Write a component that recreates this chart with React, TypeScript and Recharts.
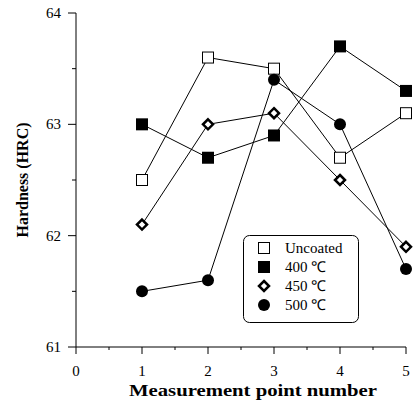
import React from 'react';
import { LineChart, Line, XAxis, YAxis, Legend, Label } from 'recharts';

const points = [1, 2, 3, 4, 5];
const uncoated = [62.5, 63.6, 63.5, 62.7, 63.1];
const temp400 = [63.0, 62.7, 62.9, 63.7, 63.3];
const temp450 = [62.1, 63.0, 63.1, 62.5, 61.9];
const temp500 = [61.5, 61.6, 63.4, 63.0, 61.7];

const xTicks = [0, 0.5, 1, 1.5, 2, 2.5, 3, 3.5, 4, 4.5, 5];
const yTicks = [61, 61.5, 62, 62.5, 63, 63.5, 64];

const seriesNames = ['Uncoated', '400 ℃', '450 ℃', '500 ℃'];

const data = points.map((p, i) => ({
  x: p,
  uncoated: uncoated[i],
  t400: temp400[i],
  t450: temp450[i],
  t500: temp500[i],
}));

const FONT = '"Liberation Serif", "Times New Roman", serif';

// marker shapes
const marker = (kind: number, cx: number, cy: number, key?: any) => {
  if (kind === 0)
    return <rect key={key} x={cx - 5.5} y={cy - 5.5} width={11} height={11} fill="#fff" stroke="#000" strokeWidth={1} />;
  if (kind === 1)
    return <rect key={key} x={cx - 6} y={cy - 6} width={12} height={12} fill="#000" />;
  if (kind === 2)
    return (
      <polygon
        key={key}
        points={`${cx},${cy - 5} ${cx + 5},${cy} ${cx},${cy + 5} ${cx - 5},${cy}`}
        fill="#fff"
        stroke="#000"
        strokeWidth={2.5}
      />
    );
  return <circle key={key} cx={cx} cy={cy} r={6} fill="#000" />;
};

const dotFor = (kind: number) => (props: any) => marker(kind, props.cx, props.cy, props.key ?? `${kind}-${props.index}`);

const XTick = (props: any) => {
  const { x, y, payload } = props;
  const major = Number.isInteger(payload.value);
  return (
    <g>
      <line x1={x} x2={x} y1={y} y2={y + (major ? 7 : 3)} stroke="#000" />
      {major && (
        <text x={x} y={y + 29} textAnchor="middle" fontSize={15} style={{ fontFamily: FONT }} fill="#000">
          {payload.value}
        </text>
      )}
    </g>
  );
};

const YTick = (props: any) => {
  const { x, y, payload } = props;
  const major = Number.isInteger(payload.value);
  return (
    <g>
      <line x1={x} x2={x - (major ? 8 : 4)} y1={y} y2={y} stroke="#000" />
      {major && (
        <text x={x - 15} y={y + 5} textAnchor="end" fontSize={15} style={{ fontFamily: FONT }} fill="#000">
          {payload.value}
        </text>
      )}
    </g>
  );
};

const LegendBox = () => (
  <svg width={116} height={88} style={{ display: 'block' }}>
    <rect x={0.5} y={0.5} width={115} height={87} rx={6} fill="#fff" stroke="#000" />
    {seriesNames.map((name, i) => {
      const cy = 13 + i * 19;
      return (
        <g key={name}>
          {marker(i, 21, cy)}
          <text x={42} y={cy + 5} fontSize={15} style={{ fontFamily: FONT }} fill="#000">
            {name}
          </text>
        </g>
      );
    })}
  </svg>
);

export default function App() {
  return (
    <div style={{ position: 'absolute', left: 0, top: 0, background: '#fff' }}>
      <LineChart width={415} height={405} data={data} margin={{ top: 13, right: 9, bottom: 0, left: 0 }}>
        <XAxis
          dataKey="x"
          type="number"
          domain={[0, 5]}
          ticks={xTicks}
          interval={0}
          tickLine={false}
          tickSize={0}
          tickMargin={0}
          tick={<XTick />}
          axisLine={{ stroke: '#000' }}
          height={58}
        >
          <Label
            content={() => (
              <text
                x={253}
                y={396}
                textAnchor="middle"
                fontSize={17}
                fontWeight="bold"
                textLength={248}
                lengthAdjust="spacingAndGlyphs"
                style={{ fontFamily: FONT }}
                fill="#000"
              >
                Measurement point number
              </text>
            )}
          />
        </XAxis>
        <YAxis
          type="number"
          domain={[61, 64]}
          ticks={yTicks}
          interval={0}
          tickLine={false}
          tickSize={0}
          tickMargin={0}
          tick={<YTick />}
          axisLine={{ stroke: '#000' }}
          width={76}
        >
          <Label
            content={() => (
              <text
                x={28}
                y={180}
                transform="rotate(-90 28 180)"
                textAnchor="middle"
                fontSize={16}
                fontWeight="bold"
                style={{ fontFamily: FONT }}
                fill="#000"
              >
                Hardness (HRC)
              </text>
            )}
          />
        </YAxis>
        <Legend
          layout="vertical"
          align="center"
          verticalAlign="middle"
          content={() => <LegendBox />}
          wrapperStyle={{ left: 243, top: 235, width: 116, height: 88 }}
        />
        <Line dataKey="uncoated" name="Uncoated" stroke="#000" strokeWidth={1} dot={dotFor(0)} isAnimationActive={false} />
        <Line dataKey="t400" name="400 ℃" stroke="#000" strokeWidth={1} dot={dotFor(1)} isAnimationActive={false} />
        <Line dataKey="t450" name="450 ℃" stroke="#000" strokeWidth={1} dot={dotFor(2)} isAnimationActive={false} />
        <Line dataKey="t500" name="500 ℃" stroke="#000" strokeWidth={1} dot={dotFor(3)} isAnimationActive={false} />
      </LineChart>
    </div>
  );
}
